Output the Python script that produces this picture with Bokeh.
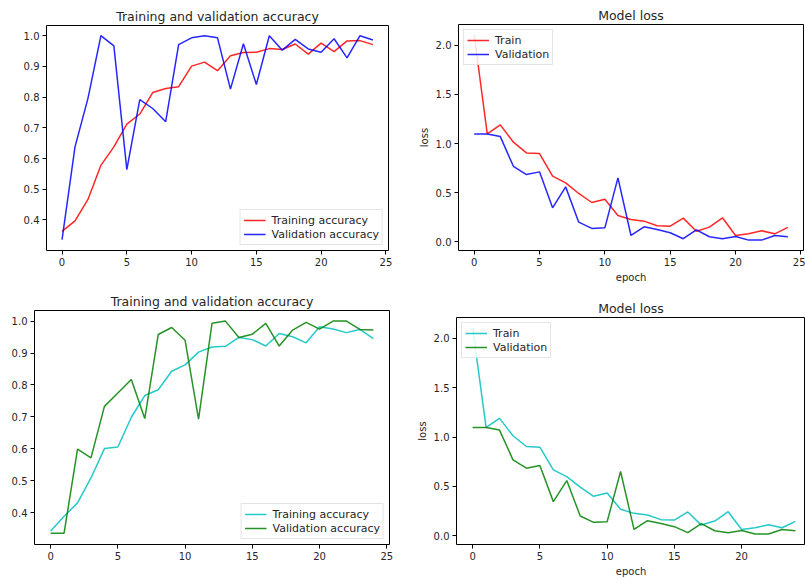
from bokeh.plotting import figure
from bokeh.layouts import column, row
from bokeh.models import FixedTicker, PrintfTickFormatter, Range1d
from bokeh.embed import file_html
from bokeh.resources import INLINE

epochs = list(range(25))

# Top-left: training / validation accuracy (run 1)
acc1_train = [0.363, 0.397, 0.467, 0.578, 0.638, 0.712, 0.745, 0.815, 0.828, 0.834,
              0.901, 0.914, 0.886, 0.935, 0.945, 0.946, 0.958, 0.955, 0.973, 0.940,
              0.976, 0.948, 0.983, 0.984, 0.971]
acc1_val = [0.336, 0.638, 0.796, 1.000, 0.967, 0.564, 0.792, 0.763, 0.720, 0.971,
            0.993, 1.000, 0.993, 0.826, 0.974, 0.841, 1.000, 0.953, 0.988, 0.957,
            0.946, 0.990, 0.928, 1.000, 0.986]

# Loss (both runs show the same curves)
loss_train = [2.108, 1.098, 1.190, 1.014, 0.905, 0.898, 0.668, 0.600, 0.492, 0.400,
              0.434, 0.268, 0.227, 0.210, 0.163, 0.159, 0.241, 0.108, 0.149, 0.244,
              0.064, 0.081, 0.112, 0.081, 0.146]
loss_val = [1.098, 1.098, 1.071, 0.769, 0.685, 0.712, 0.346, 0.559, 0.200, 0.136,
            0.142, 0.651, 0.064, 0.153, 0.125, 0.092, 0.031, 0.122, 0.051, 0.031,
            0.054, 0.017, 0.017, 0.064, 0.051]

# Bottom-left: training / validation accuracy (run 2)
acc2_train = [0.343, 0.389, 0.431, 0.509, 0.601, 0.606, 0.699, 0.767, 0.785, 0.843,
              0.863, 0.903, 0.919, 0.921, 0.949, 0.942, 0.922, 0.961, 0.951, 0.932,
              0.982, 0.975, 0.964, 0.974, 0.945]
acc2_val = [0.336, 0.336, 0.599, 0.572, 0.733, 0.775, 0.817, 0.695, 0.958, 0.980,
            0.940, 0.693, 0.993, 1.000, 0.949, 0.959, 0.993, 0.922, 0.972, 0.996,
            0.975, 1.000, 1.000, 0.974, 0.972]

x_ticks = [0, 5, 10, 15, 20, 25]
acc_ticks = [0.4, 0.5, 0.6, 0.7, 0.8, 0.9, 1.0]
loss_ticks = [0.0, 0.5, 1.0, 1.5, 2.0]

FONT = "DejaVu Sans"
TXT = "#262626"


def make_fig(title, w, h, bl, br, bt, bb, xr, yr, yticks, xlabel=None, ylabel=None):
    p = figure(width=w, height=h, output_backend="svg", toolbar_location=None,
               x_range=Range1d(*xr), y_range=Range1d(*yr),
               min_border_left=bl, min_border_right=br,
               min_border_top=bt, min_border_bottom=bb)
    p.title.text = title
    p.title.text_font = FONT
    p.title.text_font_size = "12.5px"
    p.title.text_font_style = "normal"
    p.title.text_color = TXT
    p.title.align = "center"
    p.title.standoff = 4
    p.xgrid.visible = False
    p.ygrid.visible = False
    p.outline_line_color = "black"
    p.outline_line_width = 1
    p.outline_line_alpha = 1
    p.background_fill_color = "white"
    p.border_fill_color = "white"
    for ax in (p.xaxis[0], p.yaxis[0]):
        ax.axis_line_color = None
        ax.major_tick_out = 4
        ax.major_tick_in = 0
        ax.minor_tick_line_color = None
        ax.major_tick_line_color = "black"
        ax.major_label_text_font = FONT
        ax.major_label_text_font_size = "10px"
        ax.major_label_text_color = TXT
        ax.major_label_standoff = 3
        ax.axis_label_text_font = FONT
        ax.axis_label_text_font_size = "10px"
        ax.axis_label_text_font_style = "normal"
        ax.axis_label_text_color = TXT
        ax.axis_label_standoff = 3
    p.xaxis.ticker = FixedTicker(ticks=x_ticks)
    p.yaxis.ticker = FixedTicker(ticks=yticks)
    p.yaxis.formatter = PrintfTickFormatter(format="%.1f")
    if xlabel:
        p.xaxis.axis_label = xlabel
    if ylabel:
        p.yaxis.axis_label = ylabel
    return p


def style_legend(p, loc):
    lg = p.legend[0]
    lg.location = loc
    lg.margin = 5
    lg.padding = 3
    lg.spacing = 0
    lg.label_text_font = FONT
    lg.label_text_font_size = "11px"
    lg.label_text_color = TXT
    lg.label_height = 14
    lg.glyph_height = 14
    lg.glyph_width = 22
    lg.label_standoff = 6
    lg.border_line_color = "#cccccc"
    lg.border_line_width = 1
    lg.background_fill_alpha = 0.85


acc_range = (0.3007, 1.0332)
loss_range = (-0.0888, 2.2126)
x_full = (-1.2, 25.2)
x_cut = (-1.2, 24.75)

p1 = make_fig("Training and validation accuracy", 400, 288, 46, 12, 25, 38, x_full, acc_range, acc_ticks)
p1.line(epochs, acc1_train, color="#ff0000", line_width=1.5, line_alpha=0.85, legend_label="Training accuracy")
p1.line(epochs, acc1_val, color="#0000ff", line_width=1.5, line_alpha=0.85, legend_label="Validation accuracy")
style_legend(p1, "bottom_right")

p2 = make_fig("Model loss", 405, 288, 58, 2, 24, 38, x_full, loss_range, loss_ticks, xlabel="epoch", ylabel="loss")
p2.line(epochs, loss_train, color="#ff0000", line_width=1.5, line_alpha=0.85, legend_label="Train")
p2.line(epochs, loss_val, color="#0000ff", line_width=1.5, line_alpha=0.85, legend_label="Validation")
style_legend(p2, "top_left")

p3 = make_fig("Training and validation accuracy", 400, 291, 34, 11, 22, 35, x_full, acc_range, acc_ticks)
p3.line(epochs, acc2_train, color="#00bfbf", line_width=1.5, line_alpha=0.85, legend_label="Training accuracy")
p3.line(epochs, acc2_val, color="#008000", line_width=1.5, line_alpha=0.85, legend_label="Validation accuracy")
style_legend(p3, "bottom_right")

p4 = make_fig("Model loss", 405, 291, 56, 0, 29, 33, x_cut, loss_range, loss_ticks, xlabel="epoch", ylabel="loss")
p4.line(epochs, loss_train, color="#00bfbf", line_width=1.5, line_alpha=0.85, legend_label="Train")
p4.line(epochs, loss_val, color="#008000", line_width=1.5, line_alpha=0.85, legend_label="Validation")
style_legend(p4, "top_left")

layout = column(row(column(p1), column(p2)), row(column(p3), column(p4)))

with open("out.html", "w") as f:
    f.write(file_html(layout, INLINE))
